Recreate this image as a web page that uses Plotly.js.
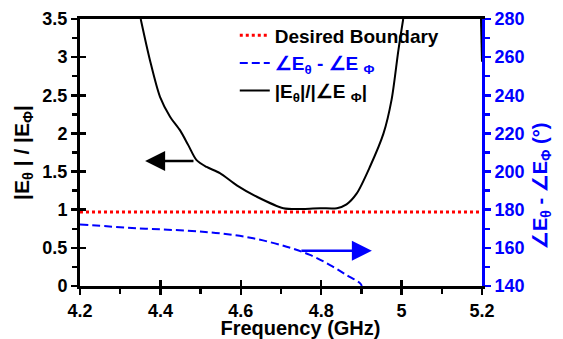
<!DOCTYPE html>
<html>
<head>
<meta charset="utf-8">
<script src="https://cdn.plot.ly/plotly-3.0.1.min.js"></script>
<style>html,body{margin:0;padding:0;background:#fff}#chart{width:563px;height:339px}</style>
</head>
<body>
<div id="chart"></div>
<script>
// Ratio |Eθ|/|EΦ| (left axis)
const ratioFreq = [4.351, 4.374, 4.399, 4.424, 4.449, 4.470, 4.490, 4.515, 4.548, 4.590, 4.640, 4.706, 4.756, 4.797, 4.839, 4.863, 4.888, 4.921, 4.955, 4.975, 4.992, 5.004, null, 5.1975, 5.2];
const ratioVals = [3.5, 2.96, 2.48, 2.22, 2.04, 1.84, 1.65, 1.56, 1.48, 1.32, 1.17, 1.02, 1.01, 1.02, 1.02, 1.07, 1.21, 1.56, 2.0, 2.44, 3.09, 3.5, null, 3.5, 2.94];
// Phase difference (right axis, degrees)
const phaseFreq = [4.2, 4.341, 4.465, 4.548, 4.631, 4.714, 4.772, 4.822, 4.863, 4.897, 4.901];
const phaseVals = [172.3, 170.3, 169.0, 167.6, 165.0, 160.6, 156.3, 151.0, 145.8, 141.4, 140];
// Desired boundary
const boundFreq = [4.2, 5.2];
const boundVals = [0.97, 0.97];
// Arrow indicators [tailFreq, headFreq, level]
const leftArrow = [4.486, 4.362, 1.638];
const rightArrow = [4.747, 4.926, 158.5];
// Tick labels
const xTicks = [4.2, 4.4, 4.6, 4.8, 5.0, 5.2];
const xTickText = ['4.2', '4.4', '4.6', '4.8', '5', '5.2'];

const FONT = 'Liberation Sans, Arial, sans-serif';
const BLUE = '#0000ff';
const PAD = n => '\u200b' + '\u00a0'.repeat(n) + '\u200b';

const traces = [
  {x: boundFreq, y: boundVals, xaxis: 'x2', yaxis: 'y3', mode: 'lines', name: 'Desired Boundary',
   line: {color: '#ff0000', width: 3, dash: 'dot'}},
  {x: phaseFreq, y: phaseVals, xaxis: 'x', yaxis: 'y2', mode: 'lines', line: {color: BLUE, width: 2, dash: '8px,4px', shape: 'spline'},
   name: '<span style="color:#0000ff">∠E<sub>θ</sub> - ∠E <sub>Φ</sub></span>'},
  {x: ratioFreq, y: ratioVals, xaxis: 'x', yaxis: 'y', mode: 'lines', line: {color: '#000', width: 2, shape: 'spline', smoothing: 0.8},
   connectgaps: false, name: '|E<sub>θ</sub>|/|∠E <sub>Φ</sub>|'}
];

const layout = {
  width: 563, height: 339,
  margin: {l: 80, r: 81, t: 19, b: 53},
  paper_bgcolor: '#fff', plot_bgcolor: '#fff',
  font: {family: FONT, size: 18, color: '#000', weight: 'bold'},
  showlegend: true,
  legend: {x: 0.385, y: 1.01, xanchor: 'left', yanchor: 'top', bgcolor: 'rgba(0,0,0,0)',
           font: {family: FONT, size: 19, color: '#000', weight: 'bold'}, tracegroupgap: 0, itemwidth: 30},
  xaxis: {range: [4.2, 5.2], tickvals: xTicks, ticktext: xTickText, ticks: 'outside', ticklen: 6, tickwidth: 2.5,
          tickcolor: '#000', showline: true, linecolor: '#000', linewidth: 3, mirror: true, showgrid: false, zeroline: false,
          minor: {dtick: 0.1, ticks: 'outside', ticklen: 5, tickwidth: 2.5, tickcolor: '#000', showgrid: false},
          tickfont: {family: FONT, size: 18, color: '#000', weight: 'bold'},
          title: {text: PAD(7) + 'Frequency (GHz)', standoff: 3, font: {family: FONT, size: 20, color: '#000', weight: 'bold'}}},
  xaxis2: {range: [4.2, 5.2], overlaying: 'x', anchor: 'y', side: 'bottom', tickvals: xTicks, showticklabels: false, ticks: 'inside',
           ticklen: 6, tickwidth: 2.5, tickcolor: '#000', showline: false, showgrid: false, zeroline: false},
  yaxis: {range: [0, 3.5], dtick: 0.5, ticks: 'outside', ticklen: 6, tickwidth: 2.5, tickcolor: '#000',
          showline: true, linecolor: '#000', linewidth: 3, mirror: true, showgrid: false, zeroline: false,
          minor: {dtick: 0.25, ticks: 'outside', ticklen: 5, tickwidth: 2.5, tickcolor: '#000', showgrid: false},
          tickfont: {family: FONT, size: 18, color: '#000', weight: 'bold'},
          title: {text: '|E<sub>θ</sub> | / |E<sub>Φ</sub>|', standoff: 8, font: {family: FONT, size: 21, color: '#000', weight: 'bold'}}},
  yaxis3: {range: [0, 3.5], overlaying: 'y', anchor: 'x', side: 'left', dtick: 0.5, showticklabels: false, ticks: 'inside',
           ticklen: 6, tickwidth: 2.5, tickcolor: '#000', showline: false, showgrid: false, zeroline: false},
  yaxis2: {range: [140, 280], dtick: 20, overlaying: 'y', side: 'right', anchor: 'x', ticks: 'outside', ticklen: 6, tickwidth: 2.5,
           tickcolor: BLUE, showline: true, linecolor: BLUE, linewidth: 3, showgrid: false, zeroline: false,
           minor: {dtick: 10, ticks: 'outside', ticklen: 5, tickwidth: 2.5, tickcolor: BLUE, showgrid: false},
           tickfont: {family: FONT, size: 18, color: BLUE, weight: 'bold'},
           title: {text: '∠E<sub>θ</sub> - ∠E<sub>Φ</sub> (°)' + PAD(12), standoff: 10, font: {family: FONT, size: 20, color: BLUE, weight: 'bold'}}},
  yaxis4: {range: [140, 280], dtick: 20, overlaying: 'y', side: 'right', anchor: 'x', showticklabels: false, ticks: 'inside',
           ticklen: 6, tickwidth: 2.5, tickcolor: BLUE, showline: false, showgrid: false, zeroline: false},
  annotations: [
    {x: leftArrow[1], y: leftArrow[2], ax: leftArrow[0], ay: leftArrow[2], xref: 'x', yref: 'y', axref: 'x', ayref: 'y',
     text: '', showarrow: true, arrowhead: 2, arrowsize: 1.6, arrowwidth: 2.5, arrowcolor: '#000'},
    {x: rightArrow[1], y: rightArrow[2], ax: rightArrow[0], ay: rightArrow[2], xref: 'x', yref: 'y2', axref: 'x', ayref: 'y2',
     text: '', showarrow: true, arrowhead: 2, arrowsize: 1.6, arrowwidth: 2.5, arrowcolor: BLUE}
  ]
};

Plotly.newPlot('chart', traces, layout, {displayModeBar: false, staticPlot: true});
</script>
</body>
</html>
